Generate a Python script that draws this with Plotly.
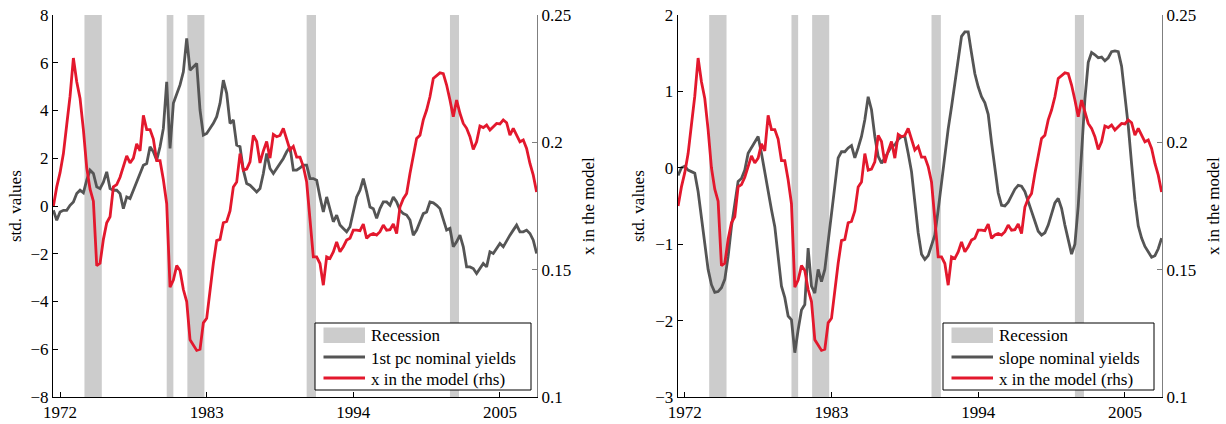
import plotly.graph_objects as go

# Quarterly sample 1971Q3 - 2007Q4 (decimal years)
quarters = [1971.5 + 0.25 * i for i in range(146)]

# x in the model (right-hand scale)
x_model = [
    0.1750, 0.1825, 0.1881, 0.1956, 0.2069, 0.2181, 0.2331, 0.2238, 0.2172, 0.2050,
    0.1900, 0.1816, 0.1769, 0.1516, 0.1525, 0.1619, 0.1684, 0.1708, 0.1825, 0.1834,
    0.1863, 0.1909, 0.1947, 0.1919, 0.1938, 0.1994, 0.1966, 0.2106, 0.2050, 0.2050,
    0.2013, 0.1928, 0.1928, 0.1853, 0.1759, 0.1431, 0.1459, 0.1516, 0.1497, 0.1422,
    0.1375, 0.1225, 0.1206, 0.1183, 0.1188, 0.1291, 0.1309, 0.1422, 0.1525, 0.1614,
    0.1619, 0.1684, 0.1689, 0.1731, 0.1825, 0.1844, 0.1956, 0.1891, 0.1895, 0.1923,
    0.2027, 0.2003, 0.1919, 0.1966, 0.2003, 0.1938, 0.2031, 0.2022, 0.2027, 0.2055,
    0.2008, 0.1970, 0.1984, 0.1942,
    0.1942, 0.1905, 0.1844, 0.1703, 0.1550, 0.1550, 0.1524, 0.1439, 0.1550, 0.1544,
    0.1570, 0.1609, 0.1570, 0.1590, 0.1616, 0.1623, 0.1655, 0.1655, 0.1653, 0.1679,
    0.1623, 0.1636, 0.1642, 0.1636, 0.1649, 0.1675, 0.1655, 0.1657, 0.1679, 0.1642,
    0.1746, 0.1779, 0.1799, 0.1878, 0.1943, 0.2015, 0.2028, 0.2088, 0.2127, 0.2179,
    0.2251, 0.2264, 0.2273, 0.2270, 0.2225, 0.2166, 0.2101, 0.2166, 0.2114, 0.2074,
    0.2055, 0.2022, 0.1972, 0.2002, 0.2064, 0.2058, 0.2068, 0.2048, 0.2061, 0.2074,
    0.2072, 0.2088, 0.2077, 0.2028, 0.2055, 0.2028, 0.2002, 0.2009, 0.1976, 0.1917,
    0.1871, 0.1805,
]

# First principal component of nominal yields (standardised)
pc1_yields = [
    -0.18, -0.60, -0.25, -0.18, -0.18, 0.03, 0.17, 0.52, 0.66, 0.55,
    1.08, 1.50, 1.36, 0.80, 0.73, 1.00, 1.43, 0.73, 0.66, 0.66,
    0.52, -0.11, 0.38, 0.31, 0.66, 1.00, 1.36, 1.71, 1.78, 2.48,
    2.27, 1.92, 2.48, 3.25, 5.20, 2.41, 4.30, 4.65, 5.07, 5.62,
    7.02, 5.69, 5.83, 5.97, 4.02, 2.97, 3.04, 3.25, 3.46, 3.74,
    4.30, 5.27, 4.72, 3.46, 3.60, 2.55, 2.48, 1.50, 0.94, 0.87,
    0.73, 0.59, 0.73, 1.36, 2.20, 1.57, 1.36, 1.57, 1.78, 1.99,
    2.27, 2.48, 1.50, 1.50,
    1.60, 1.71, 1.71, 1.15, 1.15, 1.08, 0.38, -0.25, 0.38, -0.11,
    -0.66, -0.38, -0.80, -0.94, -1.08, -0.87, -0.18, 0.38, 0.66, 1.15,
    0.59, -0.04, -0.11, -0.52, -0.11, 0.17, 0.17, 0.03, 0.38, 0.17,
    -0.18, -0.32, -0.38, -0.59, -1.22, -1.01, -0.66, -0.32, -0.25, 0.17,
    0.13, 0.03, -0.11, -0.52, -1.01, -0.94, -1.71, -1.50, -1.22, -1.71,
    -2.55, -2.55, -2.62, -2.83, -2.62, -2.41, -2.55, -1.92, -1.99, -1.78,
    -1.57, -1.71, -1.43, -1.22, -1.01, -0.80, -1.08, -1.08, -1.01, -1.15,
    -1.43, -1.99,
]

# Slope of nominal yields (standardised)
slope_yields = [
    -0.10, 0.00, 0.02, -0.03, -0.05, -0.07, -0.31, -0.64, -1.03, -1.33,
    -1.53, -1.63, -1.62, -1.57, -1.46, -1.16, -0.77, -0.46, -0.18, -0.14,
    -0.03, 0.19, 0.26, 0.34, 0.41, 0.19, -0.07, -0.31, -0.55, -0.77,
    -1.12, -1.55, -1.70, -1.94, -1.99, -2.42, -2.12, -1.86, -1.79, -1.05,
    -1.55, -1.64, -1.33, -1.49, -1.33, -0.94, -0.59, -0.24, 0.13, 0.21,
    0.21, 0.26, 0.29, 0.13, 0.26, 0.41, 0.63, 0.93, 0.76, 0.41,
    0.15, 0.06, 0.13, 0.21, 0.28, 0.30, 0.37, 0.41, 0.41, 0.19,
    -0.05, -0.45,
    -0.85, -1.13, -1.20, -1.15, -1.00, -0.88, -0.55, -0.17, 0.20, 0.51,
    0.80, 1.11, 1.42, 1.72, 1.78, 1.78, 1.50, 1.23, 1.06, 0.93,
    0.85, 0.70, 0.33, -0.04, -0.33, -0.49, -0.50, -0.45, -0.36, -0.28,
    -0.23, -0.24, -0.31, -0.43, -0.57, -0.70, -0.83, -0.88, -0.85, -0.75,
    -0.60, -0.46, -0.40, -0.53, -0.75, -0.96, -1.13, -1.00, -0.50, 0.20,
    0.90, 1.38, 1.51, 1.48, 1.44, 1.45, 1.40, 1.44, 1.52, 1.53,
    1.52, 1.33, 0.98, 0.55, 0.05, -0.42, -0.76, -0.92, -1.03, -1.11,
    -1.17, -1.15, -1.06, -0.92,
]

# NBER recessions (decimal years)
recession_start = [1973.83, 1980.0, 1981.55, 1990.5, 2001.25]
recession_end = [1975.13, 1980.5, 1982.83, 1991.2, 2001.93]

# Tick labels
year_ticks = [1972, 1983, 1994, 2005]
year_labels = ["1972", "1983", "1994", "2005"]
left_ticks_a = [-8, -6, -4, -2, 0, 2, 4, 6, 8]
left_ticks_b = [-3, -2, -1, 0, 1, 2]
rhs_ticks = [0.1, 0.15, 0.2, 0.25]
rhs_labels = ["0.1", "0.15", "0.2", "0.25"]

series_names_a = ["Recession", "1st pc nominal yields", "x in the model (rhs)"]
series_names_b = ["Recession", "slope nominal yields", "x in the model (rhs)"]
axis_title_left = "std. values"
axis_title_right = "x in the model"

RED = "#e3182d"
GREY = "#555555"
SHADE = "#cccccc"
FONT = "Liberation Serif, Times New Roman, serif"

W, H = 1226, 424
ML, MR, MT, MB = 53, 64, 15, 27
PW, PH = W - ML - MR, H - MT - MB


def px(x):
    return (x - ML) / PW


def py(y):
    return (H - MB - y) / PH


fig = go.Figure()

fig.add_trace(go.Scatter(x=quarters, y=pc1_yields, mode="lines", name=series_names_a[1],
                         line=dict(color=GREY, width=2.8), xaxis="x", yaxis="y", showlegend=False))
fig.add_trace(go.Scatter(x=quarters, y=x_model, mode="lines", name=series_names_a[2],
                         line=dict(color=RED, width=2.8), xaxis="x", yaxis="y2", showlegend=False))
fig.add_trace(go.Scatter(x=quarters, y=slope_yields, mode="lines", name=series_names_b[1],
                         line=dict(color=GREY, width=2.8), xaxis="x2", yaxis="y3", showlegend=False))
fig.add_trace(go.Scatter(x=quarters, y=x_model, mode="lines", name=series_names_b[2],
                         line=dict(color=RED, width=2.8), xaxis="x2", yaxis="y4", showlegend=False))

shapes = []
for xref, yref in (("x", "y domain"), ("x2", "y3 domain")):
    for s, e in zip(recession_start, recession_end):
        shapes.append(dict(type="rect", xref=xref, yref=yref, x0=s, x1=e, y0=0, y1=1,
                           fillcolor=SHADE, line=dict(width=0), layer="below"))

annotations = []


def add_legend(box, names):
    x0, y0, x1, y1 = box
    shapes.append(dict(type="rect", xref="paper", yref="paper", x0=px(x0), x1=px(x1),
                       y0=py(y1), y1=py(y0), fillcolor="white", line=dict(color="black", width=1)))
    sx0, sx1 = x0 + 8.5, x0 + 50
    shapes.append(dict(type="rect", xref="paper", yref="paper", x0=px(sx0), x1=px(sx1),
                       y0=py(y0 + 20), y1=py(y0 + 4.5), fillcolor=SHADE, line=dict(width=0)))
    shapes.append(dict(type="line", xref="paper", yref="paper", x0=px(sx0), x1=px(sx1),
                       y0=py(y0 + 34), y1=py(y0 + 34), line=dict(color=GREY, width=2.8)))
    shapes.append(dict(type="line", xref="paper", yref="paper", x0=px(sx0), x1=px(sx1),
                       y0=py(y0 + 55), y1=py(y0 + 55), line=dict(color=RED, width=2.8)))
    for name, dy in zip(names, (12.5, 35, 56)):
        annotations.append(dict(text=name, xref="paper", yref="paper", x=px(sx1 + 4), y=py(y0 + dy),
                                xanchor="left", yanchor="middle", showarrow=False,
                                font=dict(family=FONT, size=17, color="black")))


add_legend((315, 323, 531, 390), series_names_a)
add_legend((943, 323, 1154, 390), series_names_b)

for xc, text in ((15, axis_title_left), (588, axis_title_right),
                 (638, axis_title_left), (1213, axis_title_right)):
    annotations.append(dict(text=text, xref="paper", yref="paper", x=px(xc), y=py(206),
                            xanchor="center", yanchor="middle", textangle=-90, showarrow=False,
                            font=dict(family=FONT, size=17, color="black")))

dom_a = [0, px(537)]
dom_b = [px(677.7), 1]
xr = [1971.47, 2007.78]

tickfont = dict(family=FONT, size=17, color="black")
xcommon = dict(range=xr, tickvals=year_ticks, ticktext=year_labels, ticks="inside", ticklen=5,
               tickcolor="black", showline=True, linecolor="black", linewidth=1, showgrid=False,
               zeroline=False, tickfont=tickfont, automargin=False)
ycommon = dict(ticks="inside", ticklen=5, showline=True, linewidth=1, showgrid=False,
               zeroline=False, tickfont=tickfont, automargin=False)

fig.update_layout(
    width=W, height=H,
    margin=dict(l=ML, r=MR, t=MT, b=MB),
    paper_bgcolor="white", plot_bgcolor="white",
    showlegend=False,
    xaxis=dict(domain=dom_a, anchor="y", **xcommon),
    xaxis2=dict(domain=dom_b, anchor="y3", **xcommon),
    yaxis=dict(range=[-8, 8], tickvals=left_ticks_a, anchor="x", side="left",
               linecolor="black", tickcolor="black", **ycommon),
    yaxis2=dict(range=[0.1, 0.25], tickvals=rhs_ticks, ticktext=rhs_labels, anchor="x",
                overlaying="y", side="right", linecolor="#7f7f7f", tickcolor="#7f7f7f", **ycommon),
    yaxis3=dict(range=[-3, 2], tickvals=left_ticks_b, anchor="x2", side="left",
                linecolor="black", tickcolor="black", **ycommon),
    yaxis4=dict(range=[0.1, 0.25], tickvals=rhs_ticks, ticktext=rhs_labels, anchor="x2",
                overlaying="y3", side="right", linecolor="#7f7f7f", tickcolor="#7f7f7f", **ycommon),
    shapes=shapes,
    annotations=annotations,
)

fig.write_html("out.html")
